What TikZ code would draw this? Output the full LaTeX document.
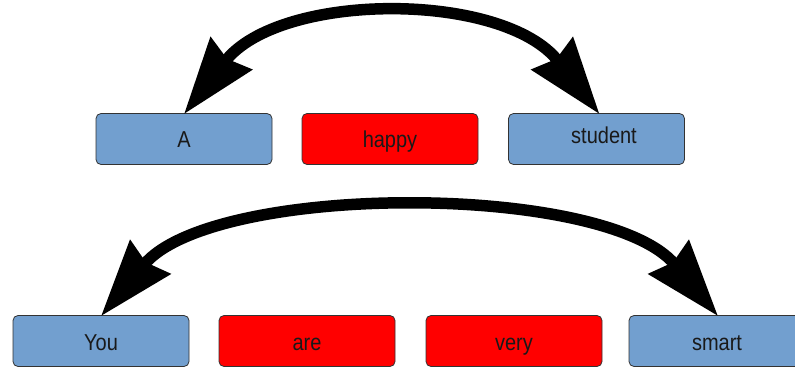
\documentclass[tikz,border=0pt]{standalone}
\usepackage{fontspec}
\usepackage{graphicx}
\setmainfont{Liberation Sans}
\usetikzlibrary{arrows.meta}
\definecolor{boxblue}{HTML}{729FCF}
\definecolor{boxred}{HTML}{FF0000}
\newcommand{\tallword}[1]{\scalebox{1}[1.15]{#1}}
\begin{document}
\begin{tikzpicture}[x=1pt,y=-1pt,
  wordbox/.style={draw=black!80, line width=0.8pt, rounded corners=5pt,
    minimum width=176pt, minimum height=51pt, inner sep=0pt,
    text height=17pt, text depth=0pt,
    font=\fontsize{20}{22}\selectfont, text=black!90},
  bluebox/.style={wordbox, fill=boxblue},
  redbox/.style={wordbox, fill=boxred},
  bigarc/.style={line width=11.5pt, black,
    {Stealth[length=76pt,width=51pt,inset=6pt]}-{Stealth[length=76pt,width=51pt,inset=6pt]}}]
\useasboundingbox (0,0) rectangle (795,367);
\fill[white] (0,0) rectangle (795,367);
% top row
\node[bluebox] (A) at (184,139) {\tallword{A}};
\node[redbox] (happy) at (390,139) {\tallword{happy}};
\node[bluebox, text height=9pt] (student) at (596.5,139) {\hspace{15pt}\tallword{student}};
% bottom row
\node[bluebox, text height=19pt] (You) at (101,341) {\tallword{You}};
\node[redbox, text height=19pt] (are) at (307,341) {\tallword{are}};
\node[redbox, text height=19pt] (very) at (514,341) {\tallword{very}};
\node[bluebox, text height=19pt] (smart) at (717,341) {\tallword{smart}};
% arcs
\draw[bigarc] ([yshift=-1pt]A.north) .. controls +(96,-123) and +(-96,-123) .. ([xshift=3pt,yshift=-1pt]student.north);
\draw[bigarc] ([yshift=-1pt]You.north) .. controls +(112,-134) and +(-112,-134) .. ([xshift=1pt,yshift=-1pt]smart.north);
\end{tikzpicture}
\end{document}
